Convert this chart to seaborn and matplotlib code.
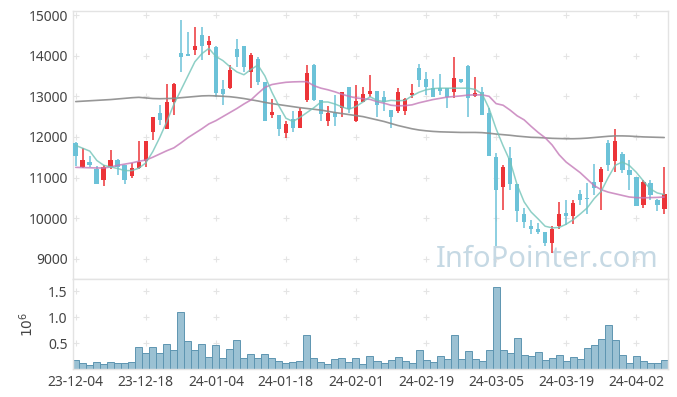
import numpy as np
import pandas as pd
import seaborn as sns
import matplotlib.pyplot as plt

sns.set_style('white')
plt.rcParams['font.family'] = ['Noto Sans', 'DejaVu Sans']

# daily OHLC, 23-12-04 .. 24-04-08 (85 trading days)
opens = [11860, 11250, 11380, 11215, 10930, 11250, 11440, 11300, 11030, 11230,
         11400, 12130, 12590, 12190, 12860, 14060, 14050, 14140, 14510, 14260,
         14220, 13180, 13200, 14160, 14240, 13610, 13930, 13350, 12530, 12540,
         12090, 12440, 12230, 12910, 13770, 12910, 12380, 12600, 12710, 13220,
         12400, 12870, 13050, 13130, 12990, 12670, 12630, 12650, 13040, 13690,
         13420, 13200, 13200, 13200, 13100, 13420, 13750, 13000, 13100, 12600,
         11500, 10770, 11490, 10850, 10110, 9815, 9740, 9660, 9390, 9800,
         10130, 10050, 10600, 10480, 10900, 10900, 11860, 11400, 11590, 11190,
         11010, 10330, 10860, 10450, 10230]
highs = [11870, 11720, 11520, 11290, 11300, 11680, 11460, 11300, 11360, 11890,
         11910, 12490, 12790, 13300, 13320, 14880, 14590, 14710, 14700, 14480,
         14230, 13390, 13770, 14400, 14240, 14060, 13980, 13350, 12940, 12550,
         12400, 12650, 12710, 13760, 13800, 12920, 12770, 13020, 13110, 13230,
         13280, 13240, 13530, 13140, 13140, 12670, 13210, 12950, 13300, 13800,
         13600, 13430, 13560, 13200, 13960, 13430, 13760, 13480, 13220, 12700,
         11600, 11320, 11760, 10850, 10250, 9960, 9870, 9665, 9800, 10400,
         10440, 10450, 10700, 10860, 11340, 11270, 11930, 12190, 11630, 11440,
         11010, 10950, 10950, 10460, 11270]
lows = [11280, 11240, 11270, 10840, 10800, 11210, 11070, 10840, 10990, 11210,
        11270, 11930, 12300, 12190, 12540, 13590, 13990, 14020, 13890, 14020,
        12990, 12790, 13190, 13720, 13610, 13200, 13280, 12380, 12460, 12010,
        11985, 12120, 12230, 12850, 12890, 12400, 12270, 12280, 12500, 12600,
        12360, 12860, 12990, 12500, 12640, 12220, 12580, 12530, 12950, 13240,
        13030, 12990, 13040, 12710, 12950, 13330, 12500, 12990, 12530, 11520,
        9310, 10210, 10700, 9900, 9760, 9600, 9600, 9320, 9150, 9720,
        9840, 9850, 10330, 10090, 10580, 10210, 11150, 11125, 11110, 10700,
        10290, 10250, 10450, 10170, 10090]
closes = [11520, 11440, 11320, 10840, 11270, 11440, 11250, 10930, 11230, 11380,
          11900, 12480, 12420, 12850, 13300, 13980, 13990, 14240, 14240, 14370,
          13090, 13060, 13650, 13960, 13730, 14020, 13360, 12380, 12610, 12200,
          12320, 12230, 12640, 13570, 12900, 12570, 12590, 12480, 13100, 12690,
          12890, 13060, 13130, 12790, 12870, 12500, 13100, 12940, 13090, 13400,
          13220, 12990, 13120, 12990, 13440, 13340, 12950, 13080, 12530, 11520,
          10680, 11260, 10850, 10170, 9900, 9720, 9650, 9390, 9730, 10090,
          10050, 10360, 10455, 10460, 10740, 11220, 11320, 11900, 11180, 11070,
          10290, 10900, 10580, 10330, 10600]

# moving averages as drawn
ma5 = [11790, 11720, 11650, 11420, 11300, 11260, 11220, 11170, 11170, 11230,
       11360, 11640, 11990, 12380, 12800, 13150, 13500, 13850, 14050, 14180,
       13980, 13880, 13730, 13600, 13530, 13660, 13770, 13500, 13100, 12760,
       12460, 12380, 12480, 12600, 12720, 12860, 12860, 12810, 12740, 12680,
       12750, 12860, 12990, 12900, 12870, 12900, 12890, 12900, 13010, 13100,
       13160, 13190, 13200, 13200, 13200, 13200, 13200, 13170, 13060, 12700,
       12200, 11780, 11400, 10820, 10400, 10150, 9980, 9800, 9760, 9770,
       9850, 9960, 10100, 10250, 10480, 10660, 11000, 11300, 11380, 11300,
       11130, 10920, 10720, 10620, 10580]
ma20 = [11250, 11245, 11240, 11235, 11235, 11260, 11300, 11330, 11360, 11400,
        11430, 11500, 11580, 11660, 11730, 11850, 11980, 12090, 12200, 12320,
        12400, 12500, 12600, 12700, 12810, 12910, 13070, 13220, 13290, 13320,
        13345, 13355, 13360, 13360, 13260, 13200, 13160, 13110, 13050, 13000,
        12960, 12940, 12925, 12870, 12830, 12780, 12765, 12770, 12790, 12840,
        12880, 12920, 12950, 12980, 12995, 13010, 13030, 13035, 13035, 13000,
        12820, 12780, 12660, 12520, 12420, 12260, 12110, 11980, 11800, 11560,
        11380, 11250, 11120, 10960, 10800, 10700, 10640, 10600, 10560, 10520,
        10505, 10500, 10505, 10510, 10520]
ma120 = [12870, 12880, 12890, 12900, 12910, 12920, 12935, 12950, 12965, 12975,
         12960, 12945, 12940, 12945, 12950, 12965, 12980, 12995, 13010, 13015,
         13010, 13000, 12990, 12970, 12945, 12915, 12885, 12850, 12820, 12795,
         12770, 12745, 12720, 12700, 12680, 12660, 12630, 12600, 12575, 12550,
         12525, 12500, 12460, 12420, 12380, 12330, 12280, 12240, 12200, 12170,
         12150, 12135, 12125, 12120, 12115, 12110, 12110, 12110, 12105, 12090,
         12070, 12055, 12040, 12020, 12005, 11990, 11985, 11975, 11965, 11960,
         11955, 11955, 11960, 11970, 11985, 12000, 12015, 12025, 12025, 12020,
         12010, 12000, 11995, 11990, 11985]

# volume, millions of shares
volume = [0.173, 0.115, 0.077, 0.135, 0.096, 0.135, 0.115, 0.115, 0.135, 0.423,
          0.308, 0.423, 0.308, 0.481, 0.365, 1.096, 0.538, 0.365, 0.481, 0.231,
          0.462, 0.212, 0.385, 0.558, 0.212, 0.288, 0.212, 0.288, 0.212, 0.154,
          0.115, 0.135, 0.154, 0.654, 0.212, 0.135, 0.096, 0.192, 0.212, 0.135,
          0.212, 0.096, 0.250, 0.154, 0.115, 0.173, 0.231, 0.154, 0.115, 0.365,
          0.173, 0.135, 0.250, 0.192, 0.654, 0.192, 0.346, 0.192, 0.154, 0.365,
          1.577, 0.365, 0.308, 0.596, 0.269, 0.250, 0.327, 0.173, 0.212, 0.269,
          0.154, 0.231, 0.192, 0.404, 0.462, 0.577, 0.846, 0.558, 0.269, 0.115,
          0.250, 0.154, 0.115, 0.115, 0.173]

tick_labels = ['23-12-04', '23-12-18', '24-01-04', '24-01-18', '24-02-01',
               '24-02-19', '24-03-05', '24-03-19', '24-04-02']

df = pd.DataFrame({'open': opens, 'high': highs, 'low': lows, 'close': closes,
                   'ma5': ma5, 'ma20': ma20, 'ma120': ma120, 'volume': volume})
df['i'] = np.arange(len(df))

RED = '#ec3438'
BLUE = '#6cc2d8'
GRID = '#e4e4e4'
SPINE = '#e3e3e3'
TXT = '#444444'

fig = plt.figure(figsize=(6.77, 3.97), dpi=100)
ax = fig.add_axes([0.1083, 0.2972, 0.878, 0.675])
axv = fig.add_axes([0.1083, 0.0705, 0.878, 0.2267])

# candles
up = df['close'] >= df['open']
cols = np.where(up, RED, BLUE)
ax.vlines(df['i'], df['low'], df['high'], colors=cols, linewidth=1.1, zorder=2)
body = np.maximum((df['close'] - df['open']).abs(), 35)
ax.bar(df['i'], body, bottom=np.minimum(df['open'], df['close']), width=0.66,
       color=cols, linewidth=0, zorder=3)

sns.lineplot(data=df, x='i', y='ma120', ax=ax, color='#8c8c8c', lw=1.2, alpha=0.9, zorder=4)
sns.lineplot(data=df, x='i', y='ma20', ax=ax, color='#c47ab8', lw=1.2, alpha=0.8, zorder=4)
sns.lineplot(data=df, x='i', y='ma5', ax=ax, color='#72c4b8', lw=1.1, alpha=0.8, zorder=5)

ax.text(0.985, 0.044, 'InfoPointer.com', transform=ax.transAxes, ha='right',
        va='baseline', fontsize=21, color='#c6d9e4', zorder=1)

# volume
sns.barplot(data=df, x='i', y='volume', ax=axv, color='#9bc1d3', saturation=1,
            width=1.0, edgecolor='#5e95b1', linewidth=0.7)

xt = list(range(0, len(df), 10))
for a in (ax, axv):
    a.set_xlim(-0.35, 84.5)
    a.set_xlabel('')
    a.set_ylabel('')
    a.tick_params(length=0, labelsize=10, colors=TXT, pad=4)
    for s in a.spines.values():
        s.set_color(SPINE)
        s.set_linewidth(1)

ax.set_ylim(8500, 15100)
ax.set_yticks(range(9000, 15001, 1000))
ax.set_xticks(xt)
ax.set_xticklabels([])
gx, gy = np.meshgrid(xt, range(9000, 15001, 1000))
ax.plot(gx.ravel(), gy.ravel(), '+', color=GRID, ms=4, mew=0.8, zorder=0)

axv.set_ylim(0, 1.74)
axv.set_yticks([0.5, 1.0, 1.5])
axv.set_yticklabels(['0.5', '1.0', '1.5'])
axv.set_xticks(xt)
axv.set_xticklabels(tick_labels)
gx, gy = np.meshgrid(xt, [0.5, 1.0, 1.5])
axv.plot(gx.ravel(), gy.ravel(), '+', color=GRID, ms=4, mew=0.8, zorder=0)
axv.set_ylabel(r'$10^6$', fontsize=10, color=TXT, labelpad=8)

fig.savefig('out.png', dpi=100)
